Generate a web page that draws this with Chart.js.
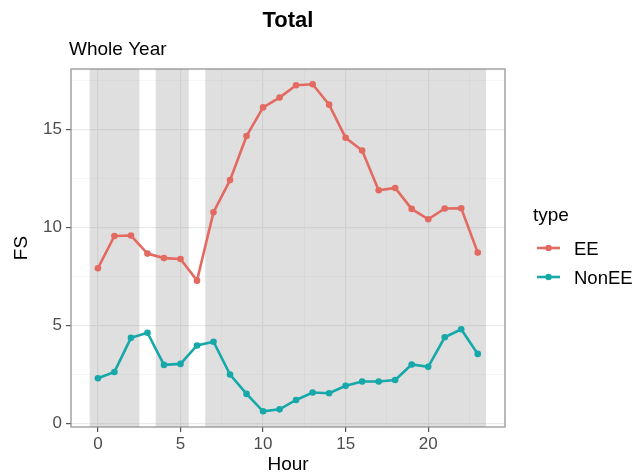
<!DOCTYPE html>
<html>
<head>
<meta charset="utf-8">
<script src="https://cdn.jsdelivr.net/npm/chart.js@4"></script>
<style>
  html, body { margin: 0; padding: 0; background: #fff; }
  #wrap { width: 637px; height: 476px; }
</style>
</head>
<body>
<div id="wrap"><canvas id="chart" width="637" height="476"></canvas></div>
<script>
// data
const hours = [0, 1, 2, 3, 4, 5, 6, 7, 8, 9, 10, 11, 12, 13, 14, 15, 16, 17, 18, 19, 20, 21, 22, 23];
const eeValues = [7.93, 9.58, 9.6, 8.68, 8.45, 8.4, 7.3, 10.79, 12.43, 14.68, 16.14, 16.64, 17.27, 17.32, 16.28, 14.59, 13.94, 11.91, 12.03, 10.96, 10.43, 10.98, 10.99, 8.73];
const nonEEValues = [2.32, 2.64, 4.38, 4.64, 3.0, 3.05, 3.99, 4.18, 2.51, 1.52, 0.63, 0.73, 1.21, 1.59, 1.55, 1.93, 2.15, 2.15, 2.23, 3.02, 2.9, 4.41, 4.82, 3.56];
const seriesNames = ['EE', 'NonEE'];
const xTickValues = [0, 2.5, 5, 7.5, 10, 12.5, 15, 17.5, 20, 22.5];
const yTickValues = [0, 2.5, 5, 7.5, 10, 12.5, 15, 17.5];
// shaded hour ranges [start, end]
const shadeStarts = [-0.5, 3.5, 6.5];
const shadeEnds = [2.5, 5.5, 23.5];

const FONT = '"Liberation Sans", Arial, Helvetica, sans-serif';
const colors = ['#e36a60', '#17a8aa'];

function toPoints(vals) {
  return hours.map((h, i) => ({ x: h, y: vals[i] }));
}

const isMajor = v => Math.abs(v % 5) < 1e-9;

const shadePlugin = {
  id: 'shade',
  beforeDatasetsDraw(chart) {
    const { ctx, chartArea, scales } = chart;
    ctx.save();
    ctx.fillStyle = 'rgba(128,128,128,0.25)';
    shadeStarts.forEach((s, i) => {
      const x0 = scales.x.getPixelForValue(s);
      const x1 = scales.x.getPixelForValue(shadeEnds[i]);
      ctx.fillRect(x0, chartArea.top, x1 - x0, chartArea.bottom - chartArea.top);
    });
    ctx.restore();
  },
  afterDatasetsDraw(chart) {
    const { ctx, chartArea } = chart;
    ctx.save();
    ctx.strokeStyle = '#8c8c8c';
    ctx.lineWidth = 1.2;
    ctx.strokeRect(chartArea.left, chartArea.top, chartArea.right - chartArea.left, chartArea.bottom - chartArea.top);
    ctx.restore();
  },
  afterDraw(chart) {
    const { ctx } = chart;
    ctx.save();
    ctx.fillStyle = '#000';
    ctx.textBaseline = 'alphabetic';
    ctx.textAlign = 'center';
    ctx.font = 'bold 22px ' + FONT;
    ctx.fillText('Total', 288, 26.5);
    ctx.textAlign = 'left';
    ctx.font = '19px ' + FONT;
    ctx.fillText('Whole Year', 69, 55);

    // legend
    ctx.fillText('type', 533, 221);
    const rows = [248, 277];
    chart.data.datasets.forEach((ds, i) => {
      const y = rows[i];
      ctx.strokeStyle = ds.borderColor;
      ctx.lineWidth = 2.6;
      ctx.beginPath();
      ctx.moveTo(537, y);
      ctx.lineTo(560, y);
      ctx.stroke();
      ctx.fillStyle = ds.borderColor;
      ctx.beginPath();
      ctx.arc(548.5, y, 3.2, 0, Math.PI * 2);
      ctx.fill();
      ctx.fillStyle = '#000';
      ctx.font = '18.5px ' + FONT;
      ctx.fillText(ds.label, 574, y + 7);
    });
    ctx.restore();
  }
};

new Chart(document.getElementById('chart'), {
  type: 'line',
  data: {
    datasets: [
      { label: seriesNames[0], data: toPoints(eeValues), borderColor: colors[0], backgroundColor: colors[0] },
      { label: seriesNames[1], data: toPoints(nonEEValues), borderColor: colors[1], backgroundColor: colors[1] }
    ]
  },
  options: {
    responsive: false,
    animation: false,
    layout: { padding: { left: 0, top: 69, right: 132, bottom: 0 } },
    elements: {
      line: { borderWidth: 2.6, tension: 0 },
      point: { radius: 3.3, borderWidth: 0, hoverRadius: 3.3 }
    },
    plugins: {
      legend: { display: false },
      title: { display: false },
      tooltip: { enabled: false }
    },
    scales: {
      x: {
        type: 'linear',
        min: -1.63,
        max: 24.65,
        afterFit: s => { s.height = 49; },
        afterBuildTicks: s => { s.ticks = xTickValues.map(v => ({ value: v })); },
        border: { display: false },
        grid: {
          color: c => isMajor(c.tick.value) ? '#ebebeb' : '#f3f3f3',
          lineWidth: c => isMajor(c.tick.value) ? 1.2 : 0.7,
          tickColor: c => isMajor(c.tick.value) ? '#555' : 'rgba(0,0,0,0)',
          tickLength: 5,
          tickWidth: 1.2
        },
        ticks: {
          autoSkip: false,
          maxRotation: 0,
          padding: 2,
          color: '#4d4d4d',
          font: { family: FONT, size: 17 },
          callback: v => isMajor(v) ? String(v) : ''
        },
        title: {
          display: true,
          text: 'Hour',
          color: '#000',
          font: { family: FONT, size: 19 },
          padding: { top: -3, bottom: 0 }
        }
      },
      y: {
        type: 'linear',
        min: -0.17,
        max: 18.1,
        afterFit: s => { s.width = 71; },
        afterBuildTicks: s => { s.ticks = yTickValues.map(v => ({ value: v })); },
        border: { display: false },
        grid: {
          color: c => isMajor(c.tick.value) ? '#ebebeb' : '#f3f3f3',
          lineWidth: c => isMajor(c.tick.value) ? 1.2 : 0.7,
          tickColor: c => isMajor(c.tick.value) ? '#555' : 'rgba(0,0,0,0)',
          tickLength: 5,
          tickWidth: 1.2
        },
        ticks: {
          autoSkip: false,
          padding: 4,
          color: '#4d4d4d',
          font: { family: FONT, size: 17 },
          callback: v => isMajor(v) ? String(v) : ''
        },
        title: {
          display: true,
          text: 'FS',
          color: '#000',
          font: { family: FONT, size: 19 },
          padding: { top: 10, bottom: 0 }
        }
      }
    }
  },
  plugins: [shadePlugin]
});
</script>
</body>
</html>
